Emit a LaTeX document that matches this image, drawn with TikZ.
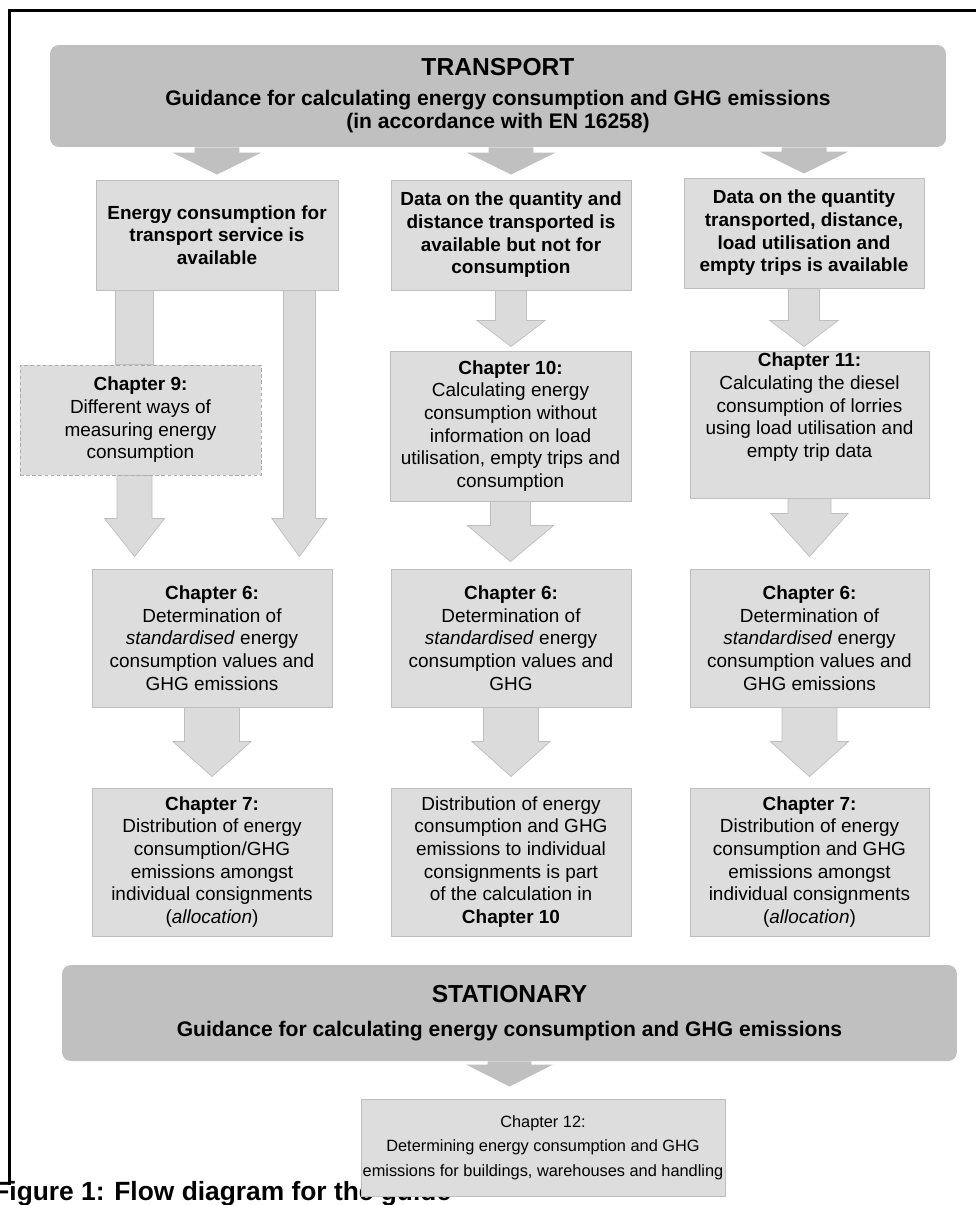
\documentclass[tikz,border=0pt]{standalone}
\usepackage{fontspec}
\setmainfont{Liberation Sans}
\usepackage{tikz}
\usetikzlibrary{calc}

\definecolor{hdrgray}{HTML}{C0C0C0}
\definecolor{boxgray}{HTML}{DDDDDD}
\definecolor{edgegray}{HTML}{BEBEBE}
\definecolor{arrgray}{HTML}{DBDBDB}

\pgfdeclarelayer{background}
\pgfsetlayers{background,main}

\newcommand{\pxl}{0.569055pt}
% block arrow: [style]{from}{to}{shaft half}{head half}{head length}{gap}
\newcommand{\blkarrow}[7][lightarrow]{%
	\filldraw[#1] let \p1=(#2), \p2=(#3) in
	(\x1-#4*\pxl,\y1) -- (\x1+#4*\pxl,\y1) -- (\x1+#4*\pxl,\y2+#6*\pxl+#7*\pxl)
	-- (\x1+#5*\pxl,\y2+#6*\pxl+#7*\pxl) -- (\x1,\y2+#7*\pxl)
	-- (\x1-#5*\pxl,\y2+#6*\pxl+#7*\pxl) -- (\x1-#4*\pxl,\y2+#6*\pxl+#7*\pxl) -- cycle;}

\begin{document}
\begin{tikzpicture}[x=0.02cm, y=-0.02cm,
	box/.style={draw=edgegray, fill=boxgray, line width=0.5pt, align=center, inner sep=1pt, font=\fontsize{10.8}{12.9}\selectfont},
	topbox/.style={box, font=\bfseries\fontsize{10.8}{12.9}\selectfont},
	dashbox/.style={box, draw=edgegray!90!black, dash pattern=on 2pt off 1.5pt},
	head/.style={fill=hdrgray, rounded corners=5pt, align=center, font=\bfseries\fontsize{12}{13.6}\selectfont},
	lightarrow/.style={fill=arrgray, draw=edgegray, line width=0.4pt},
	darkarrow/.style={fill=hdrgray, draw=none}]
	%\draw[help lines] (0,0) grid[step=50] (976,1205);
	\useasboundingbox (0,0) rectangle (976,1205);
	\draw[line width=1.7pt] (9.5,1185) -- (9.5,10) -- (976,10);

	\node[head, minimum width=17.92cm, minimum height=2.04cm] (tr) at (498,96) {{\fontsize{14}{16}\selectfont TRANSPORT}\\[3pt] Guidance for calculating energy consumption and GHG emissions\\ (in accordance with EN 16258)};

	\node[topbox, minimum width=4.84cm, minimum height=2.2cm] (boxA) at (217,235) {Energy consumption for\\ transport service is\\ available};
	\node[topbox, minimum width=4.8cm, minimum height=2.2cm] (boxB) at (511,235) {Data on the quantity and\\ distance transported is\\ available but not for\\ consumption};
	\node[topbox, minimum width=4.8cm, minimum height=2.2cm] (boxC) at (804,233) {Data on the quantity\\ transported, distance,\\ load utilisation and\\ empty trips is available};

	\node[dashbox, minimum width=4.82cm, minimum height=2.2cm] (ch9) at (140.5,420) {\textbf{Chapter 9:}\\ Different ways of\\ measuring energy\\ consumption};
	\node[box, minimum width=4.82cm, minimum height=3cm] (ch10) at (510.5,426) {\textbf{Chapter 10:}\\ Calculating energy\\ consumption without\\ information on load\\ utilisation, empty trips and\\ consumption};
	\node[box, minimum width=4.78cm, minimum height=2.94cm] (ch11) at (809.5,424.5) {\textbf{Chapter 11:}\\ Calculating the diesel\\ consumption of lorries\\ using load utilisation and\\ empty trip data\\[9pt]\mbox{}};

	\node[box, minimum width=4.8cm, minimum height=2.76cm] (ch6a) at (212,638) {\textbf{Chapter 6:}\\ Determination of\\ \textit{standardised} energy\\ consumption values and\\ GHG emissions};
	\node[box, minimum width=4.8cm, minimum height=2.76cm] (ch6b) at (511,638) {\textbf{Chapter 6:}\\ Determination of\\ \textit{standardised} energy\\ consumption values and\\ GHG};
	\node[box, minimum width=4.78cm, minimum height=2.76cm] (ch6c) at (809.5,638) {\textbf{Chapter 6:}\\ Determination of\\ \textit{standardised} energy\\ consumption values and\\ GHG emissions};

	\node[box, minimum width=4.8cm, minimum height=2.96cm] (ch7a) at (212,862) {\textbf{Chapter 7:}\\ Distribution of energy\\ consumption/GHG\\ emissions amongst\\ individual consignments\\ (\textit{allocation})};
	\node[box, minimum width=4.8cm, minimum height=2.96cm] (ch7b) at (511,862) {Distribution of energy\\ consumption and GHG\\ emissions to individual\\ consignments is part\\ of the calculation in\\ \textbf{Chapter 10}};
	\node[box, minimum width=4.78cm, minimum height=2.96cm] (ch7c) at (809.5,862) {\textbf{Chapter 7:}\\ Distribution of energy\\ consumption and GHG\\ emissions amongst\\ individual consignments\\ (\textit{allocation})};

	\node[head, minimum width=17.9cm, minimum height=1.92cm] (st) at (509.5,1013) {{\fontsize{14}{16}\selectfont STATIONARY}\\[6pt] Guidance for calculating energy consumption and GHG emissions};

	\node[anchor=base west, inner sep=0pt, font=\bfseries\fontsize{15}{18}\selectfont] (cap) at (-7,1200) {Figure 1: Flow diagram for the guide};
	\node[box, minimum width=7.28cm, minimum height=1.94cm, font=\fontsize{9.3}{14}\selectfont] (ch12) at (543,1147.5) {Chapter 12:\\ Determining energy consumption and GHG\\ emissions for buildings, warehouses and handling};

	\coordinate (lft) at ($(boxA.south west)+(39,0)$);
	\coordinate (rgt) at ($(boxA.south east)+(-39,0)$);

	\begin{pgfonlayer}{background}
		\blkarrow[darkarrow]{tr.south -| boxA.north}{boxA.north}{22.5}{44.5}{22}{5}
		\blkarrow[darkarrow]{tr.south -| boxB.north}{boxB.north}{22.5}{44.5}{22}{5}
		\blkarrow[darkarrow]{tr.south -| boxC.north}{boxC.north}{22.5}{44.5}{22}{4}
		\blkarrow{lft}{ch9.north}{19}{19}{0}{0}
		\blkarrow{ch9.south -| lft}{ch6a.north}{17.5}{30}{38}{12}
		\blkarrow{rgt}{ch6a.north}{16}{27.5}{38}{12}
		\blkarrow{boxB.south}{ch10.north}{15.5}{34}{26}{4}
		\blkarrow{boxC.south}{ch11.north}{15.5}{34}{26}{4}
		\blkarrow{ch10.south}{ch6b.north}{20}{43}{36}{7}
		\blkarrow{ch11.south}{ch6c.north}{21.5}{38.5}{43}{12}
		\blkarrow{ch6a.south}{ch7a.north}{27.5}{39}{35}{11}
		\blkarrow{ch6b.south}{ch7b.north}{27.5}{39}{35}{11}
		\blkarrow{ch6c.south}{ch7c.north}{27.5}{39}{35}{11}
		\blkarrow[darkarrow]{st.south}{ch12.north}{22}{43.5}{22}{12}
	\end{pgfonlayer}
\end{tikzpicture}
\end{document}
